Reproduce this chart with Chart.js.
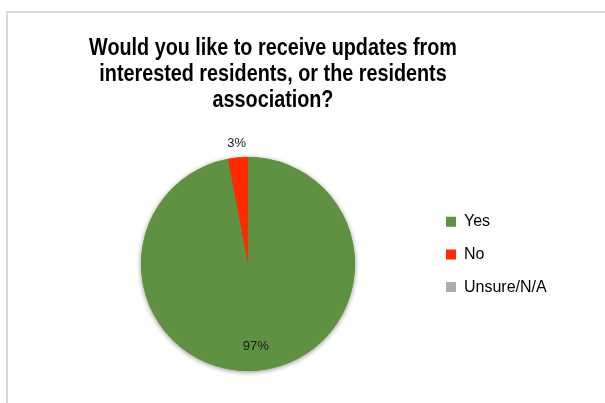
<!DOCTYPE html>
<html>
<head>
<meta charset="utf-8">
<script src="https://cdn.jsdelivr.net/npm/chart.js@4/dist/chart.umd.min.js"></script>
<style>
  html, body { margin: 0; padding: 0; background: #ffffff; }
  #wrap { position: relative; width: 605px; height: 403px; overflow: hidden; }
  #frame {
    position: absolute; left: 6px; top: 11px; width: 620px; height: 420px;
    border-top: 2px solid #dadada; border-left: 2px solid #dadada;
  }
  canvas { position: absolute; left: 0; top: 0; }
</style>
</head>
<body>
<div id="wrap">
  <div id="frame"></div>
  <canvas id="chart" width="605" height="403"></canvas>
</div>
<script>
// Survey answers
const titleLines = [
  'Would you like to receive updates from',
  'interested residents, or the residents',
  'association?'
];
const categories = ['Yes', 'No', 'Unsure/N/A'];
const shares = [97, 3, 0];
const sliceColors = ['#5f9142', '#ff2a00', '#adadad'];

// Heading: bold, slightly condensed, centred lines above the plot
const heading = {
  id: 'heading',
  afterDraw(chart) {
    const ctx = chart.ctx;
    ctx.save();
    ctx.font = 'bold 23px "Liberation Sans", Arial, sans-serif';
    ctx.fillStyle = '#000000';
    ctx.textAlign = 'center';
    ctx.textBaseline = 'alphabetic';
    const cx = 273, squeeze = 0.86;
    titleLines.forEach((line, i) => {
      ctx.save();
      ctx.translate(cx, 55 + i * 26);
      ctx.scale(squeeze, 1);
      ctx.fillText(line, 0, 0);
      ctx.restore();
    });
    ctx.restore();
  }
};

// Soft drop shadow under the pie, drawn from the first arc's geometry
const pieShadow = {
  id: 'pieShadow',
  beforeDatasetsDraw(chart) {
    const arc = chart.getDatasetMeta(0).data[0];
    if (!arc) return;
    const { x, y, outerRadius } = arc.getProps(['x', 'y', 'outerRadius'], true);
    const ctx = chart.ctx;
    ctx.save();
    ctx.shadowColor = 'rgba(0,0,0,0.45)';
    ctx.shadowBlur = 5;
    ctx.shadowOffsetX = 0;
    ctx.shadowOffsetY = 1;
    ctx.fillStyle = sliceColors[0];
    ctx.beginPath();
    ctx.arc(x, y, outerRadius, 0, Math.PI * 2);
    ctx.fill();
    ctx.restore();
  }
};

// Percentage labels: inside for large slices, just outside for thin ones
const sliceLabels = {
  id: 'sliceLabels',
  afterDatasetsDraw(chart) {
    const ctx = chart.ctx;
    const meta = chart.getDatasetMeta(0);
    ctx.save();
    ctx.font = '13px "Liberation Sans", Arial, sans-serif';
    ctx.fillStyle = '#1a1a1a';
    ctx.textAlign = 'center';
    ctx.textBaseline = 'middle';
    meta.data.forEach((arc, i) => {
      const v = shares[i];
      if (!v) return;
      const p = arc.getProps(['x', 'y', 'startAngle', 'endAngle', 'outerRadius'], true);
      const mid = (p.startAngle + p.endAngle) / 2;
      const r = v < 10 ? p.outerRadius + 14 : p.outerRadius * 0.77;
      ctx.fillText(v + '%', p.x + Math.cos(mid) * r, p.y + Math.sin(mid) * r);
    });
    ctx.restore();
  }
};

new Chart(document.getElementById('chart'), {
  type: 'pie',
  data: {
    labels: categories,
    datasets: [{
      data: shares,
      backgroundColor: sliceColors,
      borderWidth: 0
    }]
  },
  options: {
    responsive: false,
    animation: false,
    events: [],
    layout: { padding: { left: 66.7, right: 48.3, top: 157, bottom: 32 } },
    plugins: {
      title: { display: false },
      legend: {
        position: 'right',
        align: 'start',
        fullSize: false,
        title: { display: true, text: '', font: { size: 16, lineHeight: 1.2 }, padding: { top: 20.8, bottom: 0 } },
        labels: {
          boxWidth: 10,
          boxHeight: 10,
          padding: 16.7,
          color: '#000000',
          font: { family: '"Liberation Sans", Arial, sans-serif', size: 16, lineHeight: 1.2 }
        }
      },
      tooltip: { enabled: false }
    }
  },
  plugins: [pieShadow, sliceLabels, heading]
});
</script>
</body>
</html>
